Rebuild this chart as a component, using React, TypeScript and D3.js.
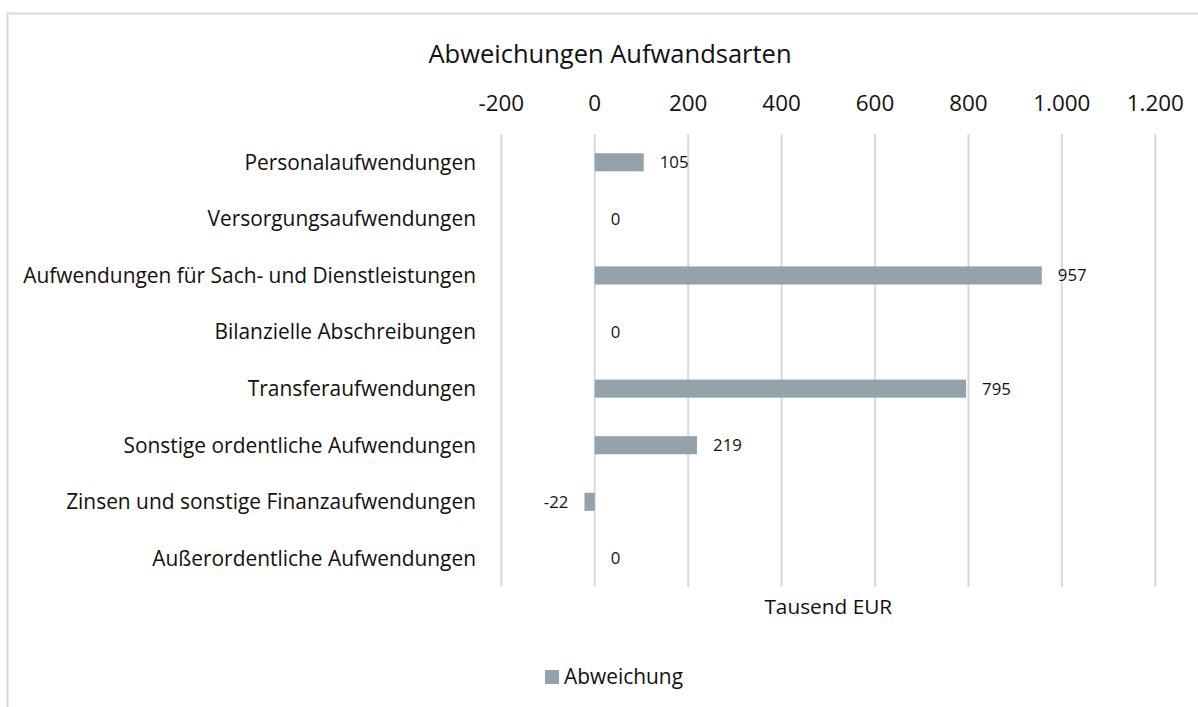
import React from "react";
import * as d3 from "d3";

const categories: string[] = [
  "Personalaufwendungen",
  "Versorgungsaufwendungen",
  "Aufwendungen für Sach- und Dienstleistungen",
  "Bilanzielle Abschreibungen",
  "Transferaufwendungen",
  "Sonstige ordentliche Aufwendungen",
  "Zinsen und sonstige Finanzaufwendungen",
  "Außerordentliche Aufwendungen",
];
const values: number[] = [105, 0, 957, 0, 795, 219, -22, 0];
const tickValues: number[] = [-200, 0, 200, 400, 600, 800, 1000, 1200];
const seriesName = "Abweichung";
const chartTitle = "Abweichungen Aufwandsarten";
const axisTitle = "Tausend EUR";

const W = 1198;
const H = 707;
const FONT = "'Open Sans', sans-serif";
const BAR = "#94A3AB";
const GRID = "#D9D9D9";
const TEXT = "#111";

const de = d3.formatLocale({ decimal: ",", thousands: ".", grouping: [3], currency: ["", " €"], minus: "-" });
const fmt = de.format(",d");

export default function App() {
  const x = d3.scaleLinear().domain([-200, 1200]).range([501.3, 1155.3]);
  const y = d3.scaleBand<string>().domain(categories).range([134, 586.7]).padding(0);
  const barH = y.step() * 0.32;
  const x0 = x(0);

  return (
    <svg width={W} height={H} style={{ position: "absolute", left: 0, top: 0, background: "#fff" }} fontFamily={FONT}>
      <rect x={7.5} y={13.5} width={W + 20} height={H + 20} fill="#fff" stroke="#D9D9D9" strokeWidth={2} />
      <text x={610} y={63} textAnchor="middle" fontSize={25.5} fill={TEXT}>{chartTitle}</text>
      {tickValues.map((t) => (
        <g key={t}>
          <line x1={x(t)} x2={x(t)} y1={134} y2={586.7} stroke={GRID} strokeWidth={2} />
          <text x={x(t)} y={111} textAnchor="middle" fontSize={22.4} fill={TEXT}>{fmt(t)}</text>
        </g>
      ))}
      {categories.map((c, i) => {
        const cy = (y(c) as number) + y.step() / 2;
        const v = values[i];
        const x1 = Math.min(x(v), x0);
        const w = Math.abs(x(v) - x0);
        return (
          <g key={c}>
            <text x={476} y={cy} dy="0.35em" textAnchor="end" fontSize={20.9} fill={TEXT}>{c}</text>
            {w > 0 && <rect x={x1} y={cy - barH / 2} width={w} height={barH} fill={BAR} />}
            <text
              x={v < 0 ? x(v) - 16 : x(v) + 16}
              y={cy}
              dy="0.35em"
              textAnchor={v < 0 ? "end" : "start"}
              fontSize={16.8}
              fill={TEXT}
            >
              {fmt(v)}
            </text>
          </g>
        );
      })}
      <text x={(x(-200) + x(1200)) / 2} y={614} textAnchor="middle" fontSize={20.8} fill={TEXT}>{axisTitle}</text>
      <rect x={545} y={670} width={14} height={14} fill={BAR} />
      <text x={564} y={684} fontSize={20.9} fill={TEXT}>{seriesName}</text>
    </svg>
  );
}
